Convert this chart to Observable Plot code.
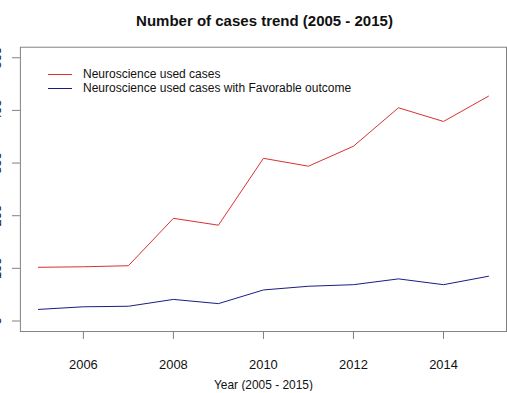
<!DOCTYPE html>
<html><head><meta charset="utf-8">
<script src="https://cdn.jsdelivr.net/npm/d3@7"></script>
<script src="https://cdn.jsdelivr.net/npm/@observablehq/plot@0.6"></script>
<style>
html,body{margin:0;padding:0;background:#fff;}
#wrap{position:relative;width:507px;height:393px;overflow:hidden;font-family:"Liberation Sans",Arial,sans-serif;background:#fff;}
#title{position:absolute;left:0;top:13px;width:529px;text-align:center;font-weight:bold;font-size:15px;line-height:15px;color:#111;}
.leg{position:absolute;left:48px;height:14px;line-height:14px;font-size:12px;color:#111;white-space:nowrap;}
.sw{display:inline-block;width:24px;height:0;border-top:1.5px solid;vertical-align:middle;margin-right:11px;}
#chart svg{position:absolute;left:0;top:0;}
</style></head>
<body>
<div id="wrap">
  <div id="chart"></div>
  <div id="title"></div>
  <div id="legend"></div>
</div>
<script>
const years = [2005, 2006, 2007, 2008, 2009, 2010, 2011, 2012, 2013, 2014, 2015];
const usedCases = [102, 103, 105, 195, 182, 309, 294, 332, 405, 379, 427];
const favorable = [22, 27, 28, 41, 33, 59, 66, 69, 80, 69, 85];
const yTicks = [0, 100, 200, 300, 400, 500];
const xTicks = [2006, 2008, 2010, 2012, 2014];
const seriesNames = ["Neuroscience used cases", "Neuroscience used cases with Favorable outcome"];
const seriesColors = ["#d83030", "#1a1a80"];
const titleText = "Number of cases trend (2005 - 2015)";
const xLabel = "Year (2005 - 2015)";

const rows = years.flatMap((yr, i) => [
  {year: yr, value: usedCases[i], series: seriesNames[0]},
  {year: yr, value: favorable[i], series: seriesNames[1]}
]);

const chart = Plot.plot({
  width: 510, height: 393,
  marginLeft: 20, marginRight: 1, marginTop: 47, marginBottom: 60,
  style: {fontFamily: "Liberation Sans, Arial, sans-serif", fontSize: "13px", color: "#111", background: "transparent"},
  x: {domain: [2004.6, 2015.4], ticks: xTicks, tickSize: 8, tickPadding: 20, tickFormat: d => String(d), label: null},
  y: {domain: [-20, 520], ticks: yTicks, tickSize: 8, tickFormat: () => "", label: null},
  color: {domain: seriesNames, range: seriesColors},
  marks: [
    Plot.frame({stroke: "#808080"}),
    Plot.text(yTicks, {y: d => d, text: d => String(d), frameAnchor: "left", dx: -19, rotate: -90, lineAnchor: "bottom", textAnchor: "middle", fill: "#111", fontSize: 13}),
    Plot.text([xLabel], {frameAnchor: "bottom", dy: 58, lineAnchor: "bottom", text: d => d, fontSize: 12, fill: "#111"}),
    Plot.line(rows, {x: "year", y: "value", stroke: "series", z: "series", strokeWidth: 1})
  ]
});
d3.select(chart).selectAll("[aria-label^='x-axis'] path, [aria-label^='y-axis'] path, [aria-label^='x-axis'] line, [aria-label^='y-axis'] line").attr("stroke", "#808080");
document.getElementById("chart").appendChild(chart);
document.getElementById("title").textContent = titleText;

const leg = document.getElementById("legend");
const legTops = [67, 81];
seriesNames.forEach((name, i) => {
  const row = document.createElement("div");
  row.className = "leg";
  row.style.top = legTops[i] + "px";
  const sw = document.createElement("span");
  sw.className = "sw";
  sw.style.borderColor = seriesColors[i];
  row.appendChild(sw);
  row.appendChild(document.createTextNode(name));
  leg.appendChild(row);
});
</script>
</body></html>
